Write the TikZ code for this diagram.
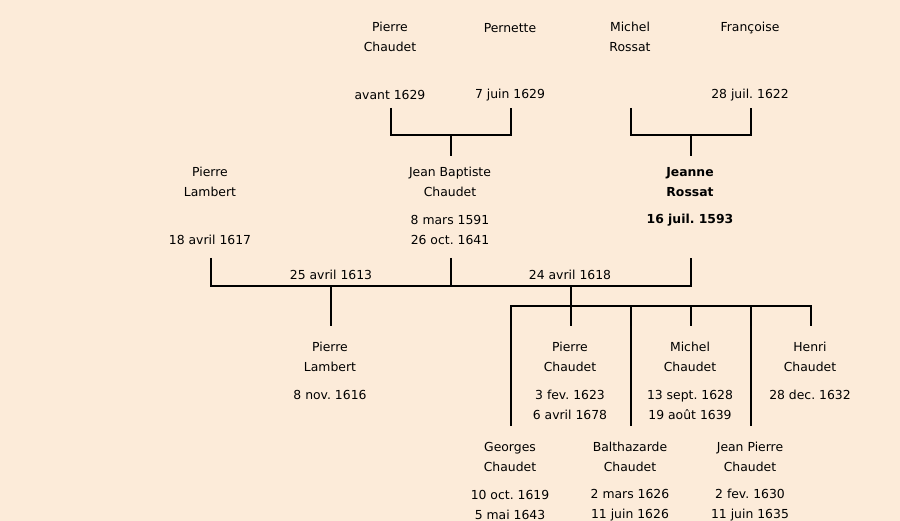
\documentclass[tikz,border=0pt]{standalone}
\usepackage{fontspec}
\setmainfont{DejaVu Sans}
\frenchspacing
\definecolor{paper}{RGB}{252,235,217}

\begin{document}
\begin{tikzpicture}[x=1pt, y=-1pt,
    person/.style={align=center, inner sep=0pt, font=\fontsize{12.4}{20}\selectfont},
    heroine/.style={person, font=\fontsize{12.4}{20}\selectfont\bfseries},
    link/.style={line width=2pt}]
    % Background
    \fill[paper] (0,0) rectangle (900,521);

    % Grandparents
    \node[person] (pc) at (390,37) {Pierre\\Chaudet};
    \node[person] (pcdate) at (390,95) {avant 1629};
    \node[person] (pe) at (510,28) {Pernette};
    \node[person] (pedate) at (510,95) {7 juin 1629};
    \node[person] (mr) at (630,37) {Michel\\Rossat};
    \node[person] (fr) at (750,28) {Françoise};
    \node[person] (frdate) at (750,95) {28 juil. 1622};

    % Parents
    \node[person] (pl) at (210,182) {Pierre\\Lambert};
    \node[person] (pldate) at (210,240) {18 avril 1617};
    \node[person] (jb) at (450,182) {Jean Baptiste\\Chaudet};
    \node[person] (jbdate) at (450,230) {8 mars 1591\\26 oct. 1641};
    \node[heroine] (jr) at (690,182) {Jeanne\\Rossat};
    \node[heroine] (jrdate) at (690,220) {16 juil. 1593};
    \node[person] (wed1) at (331,275) {25 avril 1613};
    \node[person] (wed2) at (570,275) {24 avril 1618};

    % Children
    \node[person] (plc) at (330,357) {Pierre\\Lambert};
    \node[person] (plcdate) at (330,395) {8 nov. 1616};
    \node[person] (pch) at (570,357) {Pierre\\Chaudet};
    \node[person] (pchdate) at (570,405) {3 fev. 1623\\6 avril 1678};
    \node[person] (mc) at (690,357) {Michel\\Chaudet};
    \node[person] (mcdate) at (690,405) {13 sept. 1628\\19 août 1639};
    \node[person] (hc) at (810,357) {Henri\\Chaudet};
    \node[person] (hcdate) at (810,395) {28 dec. 1632};
    \node[person] (gc) at (510,457) {Georges\\Chaudet};
    \node[person] (gcdate) at (510,505) {10 oct. 1619\\5 mai 1643};
    \node[person] (bc) at (630,457) {Balthazarde\\Chaudet};
    \node[person] (bcdate) at (630,505) {2 mars 1626\\11 juin 1626};
    \node[person] (jpc) at (750,457) {Jean Pierre\\Chaudet};
    \node[person] (jpcdate) at (750,505) {2 fev. 1630\\11 juin 1635};

    % Stems
    \coordinate (pcs) at (391,108);
    \coordinate (pes) at (511,108);
    \coordinate (mrs) at (631,108);
    \coordinate (frs) at (751,108);
    \coordinate (jbu) at (451,156);
    \coordinate (jru) at (691,156);
    \coordinate (pls) at (211,258);
    \coordinate (jbs) at (451,258);
    \coordinate (jrs) at (691,258);
    \coordinate (plcu) at (331,326);
    \coordinate (pchu) at (571,326);
    \coordinate (mcu) at (691,326);
    \coordinate (hcu) at (811,326);
    \coordinate (gcu) at (511,426);
    \coordinate (bcu) at (631,426);
    \coordinate (jpcu) at (751,426);

    % Couples
    \draw[link] (pcs) -- ++(0,27) -| (pes);
    \draw[link] (jbu) -- ++(0,-21);
    \draw[link] (mrs) -- ++(0,27) -| (frs);
    \draw[link] (jru) -- ++(0,-21);
    \draw[link] (pls) -- ++(0,28) -| (jrs);
    \draw[link] (jbs) -- ++(0,28);

    % Descendants
    \draw[link] (plcu) -- ++(0,-40);
    \draw[link] (pchu) -- ++(0,-40);
    \draw[link] (gcu) |- (hcu |- 0,306) -- (hcu);
    \draw[link] (bcu) -- (bcu |- 0,306);
    \draw[link] (jpcu) -- (jpcu |- 0,306);
    \draw[link] (mcu) -- (mcu |- 0,306);
\end{tikzpicture}
\end{document}
